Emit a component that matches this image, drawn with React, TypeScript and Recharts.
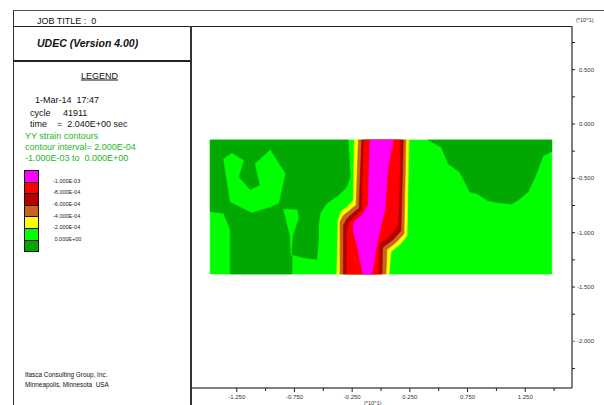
import { Scatter, ScatterChart, XAxis, YAxis } from "recharts"

const FONT = '"Liberation Sans", Arial, Helvetica, sans-serif'
const GREEN_TEXT = "#22b822"

// contour legend (top to bottom)
const LEVEL_COLORS = ["#ff00ff", "#ff0000", "#b40000", "#c8641e", "#ffff00", "#00ff00", "#00a800"]
const LEVEL_LABELS = ["-1.000E-03", "-8.000E-04", "-6.000E-04", "-4.000E-04", "-2.000E-04", " 0.000E+00"]

// axis ticks (units of *10^1)
const X_LABELED = [-1.25, -0.75, -0.25, 0.25, 0.75, 1.25]
const X_MINOR = [-1, -0.5, 0, 0.5, 1, 1.5]
const Y_LABELED = [0.5, 0, -0.5, -1, -1.5, -2]
const Y_MINOR = [0.75, 0.25, -0.25, -0.75, -1.25, -1.75, -2.25]

// model block edges
const LEFT = -1.48
const RIGHT = 1.48
const TOP = -0.147
const BOT = -1.38

// contour regions
const blockArea: number[][] = [[LEFT, TOP], [RIGHT, TOP], [RIGHT, BOT], [LEFT, BOT]]
const darkLeft: number[][] = [
  [LEFT, TOP], [-0.285, TOP], [-0.268, -0.488], [-0.297, -0.579], [-0.369, -0.655], [-0.47, -0.73],
  [-0.528, -0.821], [-0.542, -0.927], [-0.542, -1.064], [-0.556, -1.245], [-0.672, -1.23], [-0.77, -1.2],
  [-0.772, BOT], [-1.306, BOT], [-1.306, -0.973], [-1.364, -0.821], [LEFT, -0.806],
]
const darkRight: number[][] = [
  [0.409, TOP], [0.525, -0.215], [0.582, -0.366], [0.683, -0.443], [0.77, -0.625], [0.828, -0.639],
  [0.928, -0.706], [1.029, -0.725], [1.131, -0.736], [1.188, -0.7], [1.274, -0.625], [1.347, -0.457],
  [1.404, -0.291], [RIGHT, -0.252], [RIGHT, TOP],
]
const brightU: number[][] = [
  [-1.364, -0.321], [-1.292, -0.27], [-1.191, -0.336], [-1.234, -0.488], [-1.133, -0.609], [-1.047, -0.564],
  [-1.09, -0.366], [-0.96, -0.239], [-0.83, -0.457], [-0.888, -0.73], [-0.96, -0.761], [-1.119, -0.815],
  [-1.306, -0.715],
]
const brightWedge: number[][] = [
  [-0.845, -0.785], [-0.727, -0.791], [-0.715, -0.864], [-0.766, -1.027], [-0.779, -1.215], [-0.787, -1.027],
  [-0.822, -0.882],
]
const band2e4: number[][] = [
  [-0.231, TOP], [-0.24, -0.7], [-0.285, -0.755], [-0.346, -0.806], [-0.372, -0.882], [-0.383, BOT],
  [0.069, BOT], [0.087, -1.173], [0.164, -1.109], [0.225, -1.027], [0.242, TOP],
]
const band4e4: number[][] = [
  [-0.196, TOP], [-0.216, -0.745], [-0.277, -0.8], [-0.329, -0.845], [-0.355, -0.9], [-0.355, BOT],
  [0.043, BOT], [0.052, -1.155], [0.138, -1.082], [0.199, -1.009], [0.216, TOP],
]
const band6e4: number[][] = [
  [-0.167, TOP], [-0.19, -0.773], [-0.251, -0.827], [-0.297, -0.873], [-0.326, -0.936], [-0.326, BOT],
  [0.009, BOT], [0.013, -1.136], [0.104, -1.064], [0.173, -0.982], [0.193, TOP],
]
const band8e4: number[][] = [
  [-0.147, TOP], [-0.164, -0.791], [-0.216, -0.845], [-0.268, -0.9], [-0.294, -0.973], [-0.294, BOT],
  [-0.026, BOT], [-0.017, -1.1], [0.078, -1.027], [0.147, -0.927], [0.164, -0.409], [0.164, TOP],
]
const band10e4: number[][] = [
  [-0.095, TOP], [-0.112, -0.745], [-0.164, -0.836], [-0.234, -0.9], [-0.242, -0.973], [-0.199, -1.155],
  [-0.156, BOT], [-0.078, BOT], [-0.043, -1.155], [-0.009, -0.973], [0.035, -0.791], [0.061, -0.4],
  [0.106, TOP],
]

const regions = [
  { name: "base", pts: blockArea, color: LEVEL_COLORS[5] },
  { name: "darkLeft", pts: darkLeft, color: LEVEL_COLORS[6] },
  { name: "darkRight", pts: darkRight, color: LEVEL_COLORS[6] },
  { name: "brightU", pts: brightU, color: LEVEL_COLORS[5] },
  { name: "brightWedge", pts: brightWedge, color: LEVEL_COLORS[5] },
  { name: "b2", pts: band2e4, color: LEVEL_COLORS[4] },
  { name: "b4", pts: band4e4, color: LEVEL_COLORS[3] },
  { name: "b6", pts: band6e4, color: LEVEL_COLORS[2] },
  { name: "b8", pts: band8e4, color: LEVEL_COLORS[1] },
  { name: "b10", pts: band10e4, color: LEVEL_COLORS[0] },
]

const polygonLine = (color: string) => (props: any) => {
  const pts = (props.points || []) as { x: number; y: number }[]
  if (!pts.length) return <g />
  const d = pts.map((p, i) => `${i === 0 ? "M" : "L"}${p.x},${p.y}`).join("") + "Z"
  return <path d={d} fill={color} stroke={color} strokeWidth={0.6} />
}

const hiddenDot = () => <g />

const renderXTick = (props: any) => {
  const { x, y, payload } = props
  const major = X_LABELED.includes(payload.value)
  return (
    <g>
      <line x1={x} y1={y} x2={x} y2={y + (major ? 4 : 3)} stroke="#222" strokeWidth={1} />
      {major && (
        <text x={x} y={y + 11} textAnchor="middle" fontSize={6} fontFamily={FONT} fill="#333">
          {payload.value.toFixed(3)}
        </text>
      )}
    </g>
  )
}

const renderYTick = (props: any) => {
  const { x, y, payload } = props
  const major = Y_LABELED.includes(payload.value)
  return (
    <g>
      <line x1={x} y1={y} x2={x + 3} y2={y} stroke={payload.value === -2 ? GREEN_TEXT : "#222"} strokeWidth={1} />
      {major && (
        <text x={x + 22} y={y + 2} textAnchor="end" fontSize={6} fontFamily={FONT} fill="#333">
          {payload.value.toFixed(3)}
        </text>
      )}
    </g>
  )
}

function Txt({ x, y, size = 9, color = "#111", style, children }: any) {
  return (
    <div
      style={{
        position: "absolute",
        left: x,
        top: y,
        transform: "translateY(-50%)",
        fontSize: size,
        lineHeight: 1,
        whiteSpace: "pre",
        color,
        ...style,
      }}
    >
      {children}
    </div>
  )
}

function Rule({ x, y, w, h, c = "#333" }: any) {
  return <div style={{ position: "absolute", left: x, top: y, width: w, height: h, background: c }} />
}

export default function App() {
  const xTicks = [...X_LABELED, ...X_MINOR].sort((a, b) => a - b)
  const yTicks = [...Y_LABELED, ...Y_MINOR].sort((a, b) => a - b)

  return (
    <div
      style={{
        position: "absolute",
        left: 0,
        top: 0,
        width: 604,
        height: 405,
        overflow: "hidden",
        background: "#fff",
        fontFamily: FONT,
      }}
    >
      <div style={{ position: "absolute", left: 0, top: 0 }}>
        <ScatterChart width={604} height={405} margin={{ top: 26, right: 0, bottom: 0, left: 190 }}>
          <XAxis
            type="number"
            dataKey="x"
            domain={[-1.655, 1.655]}
            allowDataOverflow
            ticks={xTicks}
            interval={0}
            height={17}
            tickSize={0}
            tickMargin={0}
            tickLine={false}
            axisLine={{ stroke: "#555", strokeWidth: 1.5 }}
            tick={renderXTick}
          />
          <YAxis
            type="number"
            dataKey="y"
            orientation="right"
            domain={[-2.429, 0.902]}
            allowDataOverflow
            ticks={yTicks}
            interval={0}
            width={32}
            tickSize={0}
            tickMargin={0}
            tickLine={false}
            axisLine={{ stroke: "#555", strokeWidth: 1.5 }}
            tick={renderYTick}
          />
          {regions.map((r) => (
            <Scatter
              key={r.name}
              name={r.name}
              data={r.pts.map(([x, y]) => ({ x, y }))}
              fill={r.color}
              line={polygonLine(r.color)}
              lineType="joint"
              shape={hiddenDot}
              isAnimationActive={false}
            />
          ))}
        </ScatterChart>
      </div>

      {/* frame */}
      <Rule x={13} y={10} w={591} h={1} c="#555" />
      <Rule x={13} y={10} w={1} h={395} c="#333" />
      <Rule x={13} y={25.5} w={559} h={1.5} c="#222" />
      <Rule x={13} y={60} w={177} h={1.5} c="#222" />
      <Rule x={189.5} y={26} w={2} h={379} c="#333" />

      <Txt x={37} y={20.5}>JOB TITLE :  0</Txt>
      <Txt x={37} y={43} size={10.5} style={{ fontWeight: "bold", fontStyle: "italic" }}>
        UDEC (Version 4.00)
      </Txt>
      <Txt x={81} y={76} style={{ textDecoration: "underline" }}>LEGEND</Txt>
      <Txt x={35} y={99.5}>1-Mar-14  17:47</Txt>
      <Txt x={30} y={112.5}>cycle     41911</Txt>
      <Txt x={30} y={124}>time    =  2.040E+00 sec</Txt>
      <Txt x={25} y={136} color={GREEN_TEXT}>YY strain contours</Txt>
      <Txt x={25} y={146.7} color={GREEN_TEXT}>contour interval= 2.000E-04</Txt>
      <Txt x={25} y={157.7} color={GREEN_TEXT}>-1.000E-03 to  0.000E+00</Txt>

      {LEVEL_COLORS.map((c, i) => (
        <div
          key={c}
          style={{
            position: "absolute",
            left: 24,
            top: 170 + i * 11.6,
            width: 15,
            height: 12.6,
            boxSizing: "border-box",
            border: "1px solid #111",
            background: c,
          }}
        />
      ))}
      {LEVEL_LABELS.map((t, i) => (
        <Txt key={t} x={53} y={181.7 + i * 11.6} size={5.5} color="#222">
          {t}
        </Txt>
      ))}

      <Txt x={25} y={375} size={6.4}>Itasca Consulting Group, Inc.</Txt>
      <Txt x={25} y={384.5} size={6.4}>Minneapolis, Minnesota  USA</Txt>

      <Txt x={576} y={21} size={5.5} color="#333">(*10^1)</Txt>
      <Txt x={364} y={404} size={5.5} color="#333">(*10^1)</Txt>
    </div>
  )
}
